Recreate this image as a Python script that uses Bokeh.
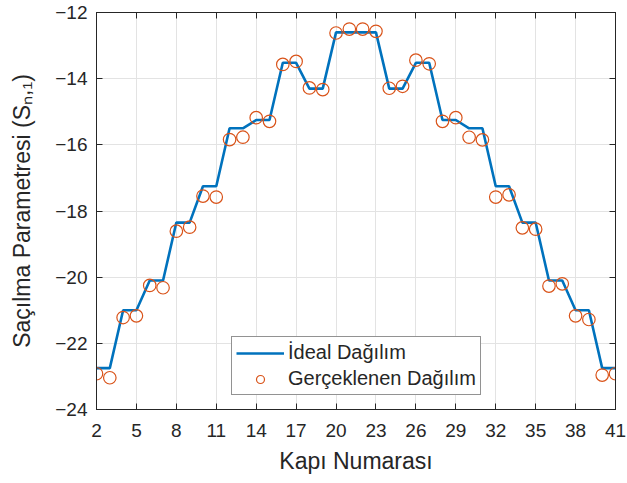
from bokeh.plotting import figure
from bokeh.models import LinearAxis, FixedTicker, Legend, LegendItem, Range1d
from bokeh.embed import file_html
from bokeh.resources import INLINE

ports = list(range(2, 42))
ideal = [-22.75, -22.75, -21.0, -21.0, -20.1, -20.1, -18.35, -18.35, -17.25, -17.25,
         -15.5, -15.5, -15.25, -15.25, -13.52, -13.52, -14.3, -14.3, -12.6, -12.6,
         -12.6, -12.6, -14.3, -14.3, -13.52, -13.52, -15.25, -15.25, -15.5, -15.5,
         -17.25, -17.25, -18.35, -18.35, -20.1, -20.1, -21.0, -21.0, -22.75, -22.75]
measured = [-22.92, -23.04, -21.22, -21.17, -20.25, -20.32, -18.61, -18.49, -17.55, -17.58,
            -15.84, -15.77, -15.18, -15.29, -13.57, -13.48, -14.28, -14.33, -12.62, -12.50,
            -12.50, -12.57, -14.29, -14.23, -13.44, -13.55, -15.29, -15.18, -15.77, -15.85,
            -17.58, -17.51, -18.51, -18.55, -20.27, -20.20, -21.17, -21.28, -22.96, -22.92]
x_ticks = list(range(2, 42, 3))
y_ticks = list(range(-24, -11, 2))

FONT = "Liberation Sans"
DARK = "#262626"

p = figure(width=627, height=483, output_backend="svg", toolbar_location=None,
           x_range=Range1d(2, 41), y_range=Range1d(-24, -12),
           min_border_left=96, min_border_right=12, min_border_top=12, min_border_bottom=74,
           x_axis_label="Kapı Numarası", y_axis_label="Saçılma Parametresi (Sₙ,₁)")
p.frame_width = 519
p.frame_height = 397
p.outline_line_color = DARK
p.outline_line_width = 1
p.background_fill_color = "white"
p.border_fill_color = "white"

for ax in (p.xaxis[0], p.yaxis[0]):
    ax.axis_line_color = DARK
    ax.major_tick_line_color = DARK
    ax.major_tick_in = 6
    ax.major_tick_out = 0
    ax.minor_tick_line_color = None
    ax.major_label_text_font = FONT
    ax.major_label_text_font_size = "19px"
    ax.major_label_text_color = DARK
    ax.axis_label_text_font = FONT
    ax.axis_label_text_font_size = "23px"
    ax.axis_label_text_font_style = "normal"
    ax.axis_label_text_color = DARK
p.xaxis[0].ticker = FixedTicker(ticks=x_ticks)
p.yaxis[0].ticker = FixedTicker(ticks=y_ticks)
p.xaxis[0].major_label_standoff = 14
p.yaxis[0].major_label_standoff = 9
p.xaxis[0].axis_label_standoff = 8
p.yaxis[0].axis_label_standoff = 17

for loc, tks in (("above", x_ticks), ("right", y_ticks)):
    ax = LinearAxis(ticker=FixedTicker(ticks=tks))
    ax.axis_line_color = DARK
    ax.major_tick_line_color = DARK
    ax.major_tick_in = 6
    ax.major_tick_out = 0
    ax.minor_tick_line_color = None
    ax.major_label_text_font_size = "0px"
    ax.major_label_standoff = 0
    ax.major_label_text_color = None
    p.add_layout(ax, loc)

p.xgrid.ticker = FixedTicker(ticks=x_ticks)
p.ygrid.ticker = FixedTicker(ticks=y_ticks)
p.grid.grid_line_color = "#e3e3e3"
p.grid.grid_line_width = 1

r_line = p.line(ports, ideal, line_color="#0072BD", line_width=2.6)
r_pts = p.scatter(ports, measured, marker="circle", size=12.5, fill_color=None,
                  line_color="#D95319", line_width=1.2)

legend = Legend(items=[LegendItem(label="İdeal Dağılım", renderers=[r_line]),
                       LegendItem(label="Gerçeklenen Dağılım", renderers=[r_pts])],
                location=(135, 14))
legend.label_text_font = FONT
legend.label_text_font_size = "20px"
legend.label_text_color = DARK
legend.border_line_color = DARK
legend.border_line_width = 1
legend.background_fill_color = "white"
legend.background_fill_alpha = 1
legend.glyph_width = 48
legend.glyph_height = 20
legend.label_height = 20
legend.spacing = 3
legend.padding = 4
legend.margin = 0
legend.label_standoff = 4
p.add_layout(legend, "center")

open("out.html", "w").write(file_html(p, INLINE))
